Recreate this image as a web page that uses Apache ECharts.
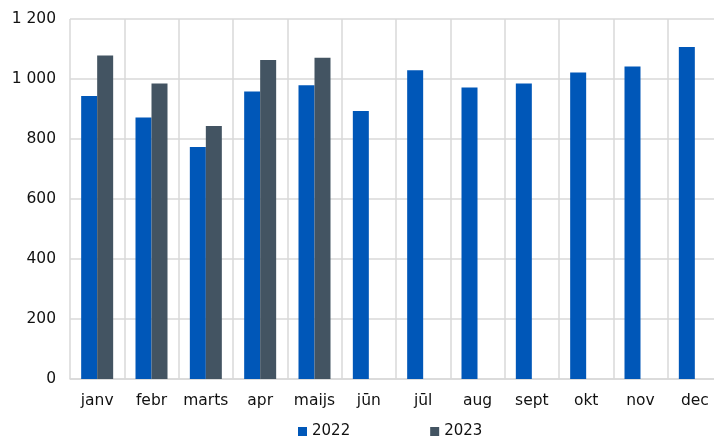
<!DOCTYPE html>
<html style="height: 100%">
<head>
  <meta charset="utf-8">
  <title>chart</title>
</head>
<body style="height: 100%; margin: 0">
<div id="container" style="height: 437px; width: 714px; background: #fff"></div>

<script type="text/javascript" src="https://cdn.jsdelivr.net/npm/echarts@6/dist/echarts.min.js"></script>
<script type="text/javascript">
  var months = ['janv', 'febr', 'marts', 'apr', 'maijs', 'jūn', 'jūl', 'aug', 'sept', 'okt', 'nov', 'dec'];
  var values2022 = [943, 872, 773, 958, 979, 893, 1029, 972, 985, 1022, 1042, 1107];
  var values2023 = [1078, 985, 843, 1063, 1071, '-', '-', '-', '-', '-', '-', '-'];

  var dom = document.getElementById('container');
  var myChart = echarts.init(dom);
  var fontFamily = 'DejaVu Sans, Verdana, sans-serif';
  var gridLine = { color: '#d9d9d9', width: 1.5 };

  var option = {
    animation: false,
    textStyle: { fontFamily: fontFamily },
    grid: { left: 70, width: 652, top: 19, bottom: 58, outerBoundsMode: 'none' },
    legend: {
      data: ['2022', '2023'],
      top: 419,
      left: 293,
      icon: 'rect',
      itemWidth: 9,
      itemHeight: 9,
      itemGap: 80,
      textStyle: { fontSize: 15, color: '#111', fontFamily: fontFamily }
    },
    xAxis: {
      type: 'category',
      data: months,
      axisLine: { lineStyle: gridLine },
      axisTick: { show: false },
      splitLine: { show: true, lineStyle: gridLine },
      axisLabel: { fontSize: 15.5, color: '#111', margin: 14, interval: 0 }
    },
    yAxis: {
      type: 'value',
      min: 0,
      max: 1200,
      interval: 200,
      axisLine: { show: false },
      axisTick: { show: false },
      splitLine: { lineStyle: gridLine },
      axisLabel: {
        fontSize: 15.5,
        color: '#111',
        margin: 14,
        formatter: function (v) {
          return String(v).replace(/\B(?=(\d{3})+(?!\d))/g, ' ');
        }
      }
    },
    series: [
      {
        name: '2022',
        type: 'bar',
        data: values2022,
        barWidth: 16,
        barGap: '0%',
        itemStyle: { color: '#0057b8' }
      },
      {
        name: '2023',
        type: 'bar',
        data: values2023,
        barWidth: 16,
        itemStyle: { color: '#435462' }
      }
    ]
  };

  myChart.setOption(option);
</script>
</body>
</html>
